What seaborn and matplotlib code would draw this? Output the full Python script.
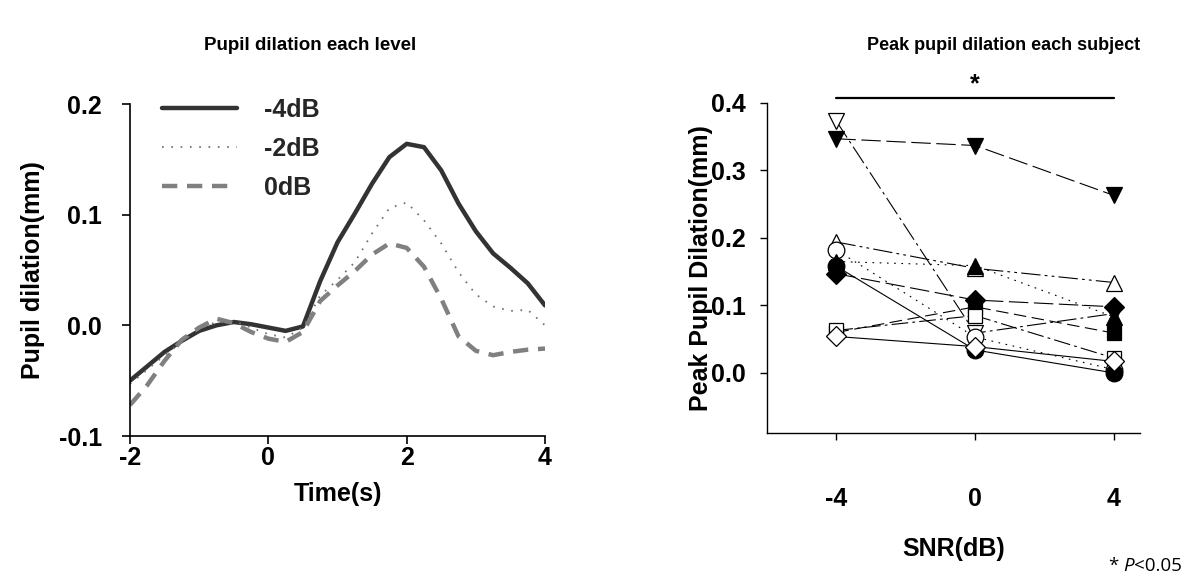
import numpy as np
import pandas as pd
import matplotlib
matplotlib.use("Agg")
import matplotlib.pyplot as plt
import seaborn as sns

# ---------------- data: left panel (pupil dilation time course) -------------
time_s = [-2.0, -1.75, -1.5, -1.25, -1.0, -0.75, -0.5, -0.25, 0.0, 0.25, 0.5,
          0.75, 1.0, 1.25, 1.5, 1.75, 2.0, 2.25, 2.5, 2.75, 3.0, 3.25, 3.5,
          3.75, 4.0]
dil_m4 = [-0.050, -0.037, -0.024, -0.014, -0.005, 0.000, 0.003, 0.001, -0.002,
          -0.005, -0.001, 0.040, 0.075, 0.101, 0.128, 0.152, 0.164, 0.161,
          0.140, 0.110, 0.085, 0.065, 0.052, 0.038, 0.018]
dil_m2 = [-0.053, -0.040, -0.027, -0.015, -0.003, 0.003, 0.004, -0.002, -0.008,
          -0.011, -0.002, 0.027, 0.041, 0.057, 0.083, 0.106, 0.111, 0.095,
          0.074, 0.048, 0.028, 0.017, 0.013, 0.014, 0.000]
dil_0 = [-0.072, -0.054, -0.032, -0.013, -0.002, 0.006, 0.002, -0.006, -0.012,
         -0.015, -0.006, 0.022, 0.036, 0.049, 0.064, 0.074, 0.070, 0.053,
         0.024, -0.010, -0.023, -0.027, -0.024, -0.022, -0.021]
levels = ["-4dB", "-2dB", "0dB"]

# ---------------- data: right panel (peak dilation per subject) -------------
snr_db = [-4, 0, 4]
subj_filled_circle = [0.158, 0.034, 0.000]
subj_open_circle = [0.182, 0.053, 0.005]
subj_filled_down = [0.347, 0.337, 0.263]
subj_open_down = [0.373, 0.059, 0.088]
subj_filled_square = [0.060, 0.098, 0.059]
subj_open_square = [0.063, 0.085, 0.022]
subj_filled_diamond = [0.147, 0.108, 0.098]
subj_open_diamond = [0.054, 0.039, 0.017]
subj_filled_up = [0.165, 0.159, 0.083]
subj_open_up = [0.194, 0.155, 0.134]

sns.set_theme(style="ticks")
plt.rcParams['font.family'] = ['Liberation Sans', 'DejaVu Sans']
plt.rcParams['lines.scale_dashes'] = False

W, H = 1186, 582
fig = plt.figure(figsize=(W / 100, H / 100), dpi=100)
fig.patch.set_facecolor("white")

def px_axes(l, t, r, b):
    return fig.add_axes([l / W, 1 - b / H, (r - l) / W, (b - t) / H])

FS = 18

# ---------------- left panel ----------------
ax1 = px_axes(130, 104, 545, 436)
df = pd.DataFrame({
    "time": time_s * 3,
    "dil": dil_m4 + dil_m2 + dil_0,
    "level": [levels[0]] * len(time_s) + [levels[1]] * len(time_s) + [levels[2]] * len(time_s),
})
sns.lineplot(data=df, x="time", y="dil", hue="level", style="level", size="level",
             palette={"-4dB": "#333333", "-2dB": "#707070", "0dB": "#808080"},
             dashes={"-4dB": "", "-2dB": (1.2, 5.5), "0dB": (11, 7)},
             sizes={"-4dB": 3.2, "-2dB": 1.3, "0dB": 3.2},
             legend=False, ax=ax1)
ax1.set_xlim(-2, 4)
ax1.set_ylim(-0.1, 0.2)
ax1.set_xticks([-2, 0, 2, 4])
ax1.set_yticks([-0.1, 0.0, 0.1, 0.2])
ax1.set_xticklabels(["-2", "0", "2", "4"])
ax1.set_yticklabels(["-0.1", "0.0", "0.1", "0.2"])
sns.despine(ax=ax1)
for s in ["left", "bottom"]:
    ax1.spines[s].set_color("black")
    ax1.spines[s].set_linewidth(1.2)
ax1.tick_params(axis="both", direction="out", length=6, width=1.2, color="black",
                labelsize=FS, labelcolor="black")
ax1.tick_params(axis="x", pad=1)
ax1.tick_params(axis="y", pad=14)
for t in ax1.get_xticklabels() + ax1.get_yticklabels():
    t.set_fontweight("bold")
ax1.set_xlabel("Time(s)", fontsize=FS, fontweight="bold", color="black")
ax1.set_ylabel("Pupil dilation(mm)", fontsize=FS, fontweight="bold", color="black")
ax1.xaxis.set_label_coords(0.5, -0.139)
ax1.yaxis.set_label_coords(-0.205, 0.5)
leg = ax1.legend(handles=ax1.lines[:3], labels=levels, loc="upper left",
                 bbox_to_anchor=(0.047, 1.057), frameon=False, handlelength=3.0,
                 handletextpad=1.08, labelspacing=0.6, borderpad=0,
                 prop={"size": FS, "weight": "bold"})

# ---------------- right panel ----------------
ax2 = px_axes(767, 103, 1140, 433)
subjects = [
    (subj_open_down, "v", "white", 12, (0, (14, 3, 2, 3))),
    (subj_filled_down, "v", "black", 12, (0, (14, 4))),
    (subj_open_up, "^", "white", 12, (0, (14, 3, 2, 3, 2, 3))),
    (subj_open_circle, "o", "white", 12, (0, (1.2, 4))),
    (subj_filled_up, "^", "black", 12, (0, (1.2, 4))),
    (subj_filled_circle, "o", "black", 12, "-"),
    (subj_filled_diamond, "D", "black", 10, (0, (14, 4))),
    (subj_filled_square, "s", "black", 10.5, (0, (9, 4))),
    (subj_open_square, "s", "white", 10.5, (0, (12, 3, 2, 3))),
    (subj_open_diamond, "D", "white", 10, "-"),
]
for vals, mk, fc, ms, ls in subjects:
    sns.lineplot(x=snr_db, y=vals, ax=ax2, color="black", linewidth=0.8,
                 linestyle=ls, marker=mk, markersize=ms, markerfacecolor=fc,
                 markeredgecolor="black", markeredgewidth=0.9, errorbar=None)
ax2.set_xlim(-6.0, 4.75)
ax2.set_ylim(-0.089, 0.4)
ax2.set_xticks(snr_db)
ax2.set_xticklabels(["-4", "0", "4"])
ax2.set_yticks([0.0, 0.1, 0.2, 0.3, 0.4])
ax2.set_yticklabels(["0.0", "0.1", "0.2", "0.3", "0.4"])
sns.despine(ax=ax2)
for s in ["left", "bottom"]:
    ax2.spines[s].set_color("black")
    ax2.spines[s].set_linewidth(1.0)
ax2.tick_params(axis="both", direction="out", length=5, width=1.0, color="black",
                labelsize=FS, labelcolor="black")
ax2.tick_params(axis="x", pad=34)
ax2.tick_params(axis="y", pad=10)
for t in ax2.get_xticklabels() + ax2.get_yticklabels():
    t.set_fontweight("bold")
ax2.set_xlabel("SNR(dB)", fontsize=FS, fontweight="bold", color="black")
ax2.set_ylabel("Peak Pupil Dilation(mm)", fontsize=FS, fontweight="bold", color="black")
ax2.xaxis.set_label_coords(0.5, -0.315)
ax2.yaxis.set_label_coords(-0.145, 0.5)
# significance bar
ax2.plot([-4, 4], [0.4074, 0.4074], color="black", lw=1.6, clip_on=False)
ax2.text(0, 0.427, "*", ha="center", va="center", fontsize=FS, fontweight="bold",
         color="black", clip_on=False)

# ---------------- titles & footnote ----------------
fig.text(310 / W, 1 - 45 / H, "Pupil dilation each level", ha="center", va="center",
         fontsize=13.5, fontweight="bold", color="black")
fig.text(1004 / W, 1 - 45 / H, "Peak pupil dilation each subject", ha="center",
         va="center", fontsize=13, fontweight="bold", color="black")
fig.text(1113 / W, 1 - 566 / H, "*", ha="center", va="center", fontsize=13.5,
         family="Open Sans", color="black")
fig.text(1123 / W, 1 - 566 / H, "P", ha="left", va="center", fontsize=13.5,
         family="Open Sans", style="italic", color="black")
fig.text(1134 / W, 1 - 566 / H, "<0.05", ha="left", va="center", fontsize=13.5,
         family="Open Sans", color="black")

fig.savefig("out.png", dpi=100, facecolor="white")
